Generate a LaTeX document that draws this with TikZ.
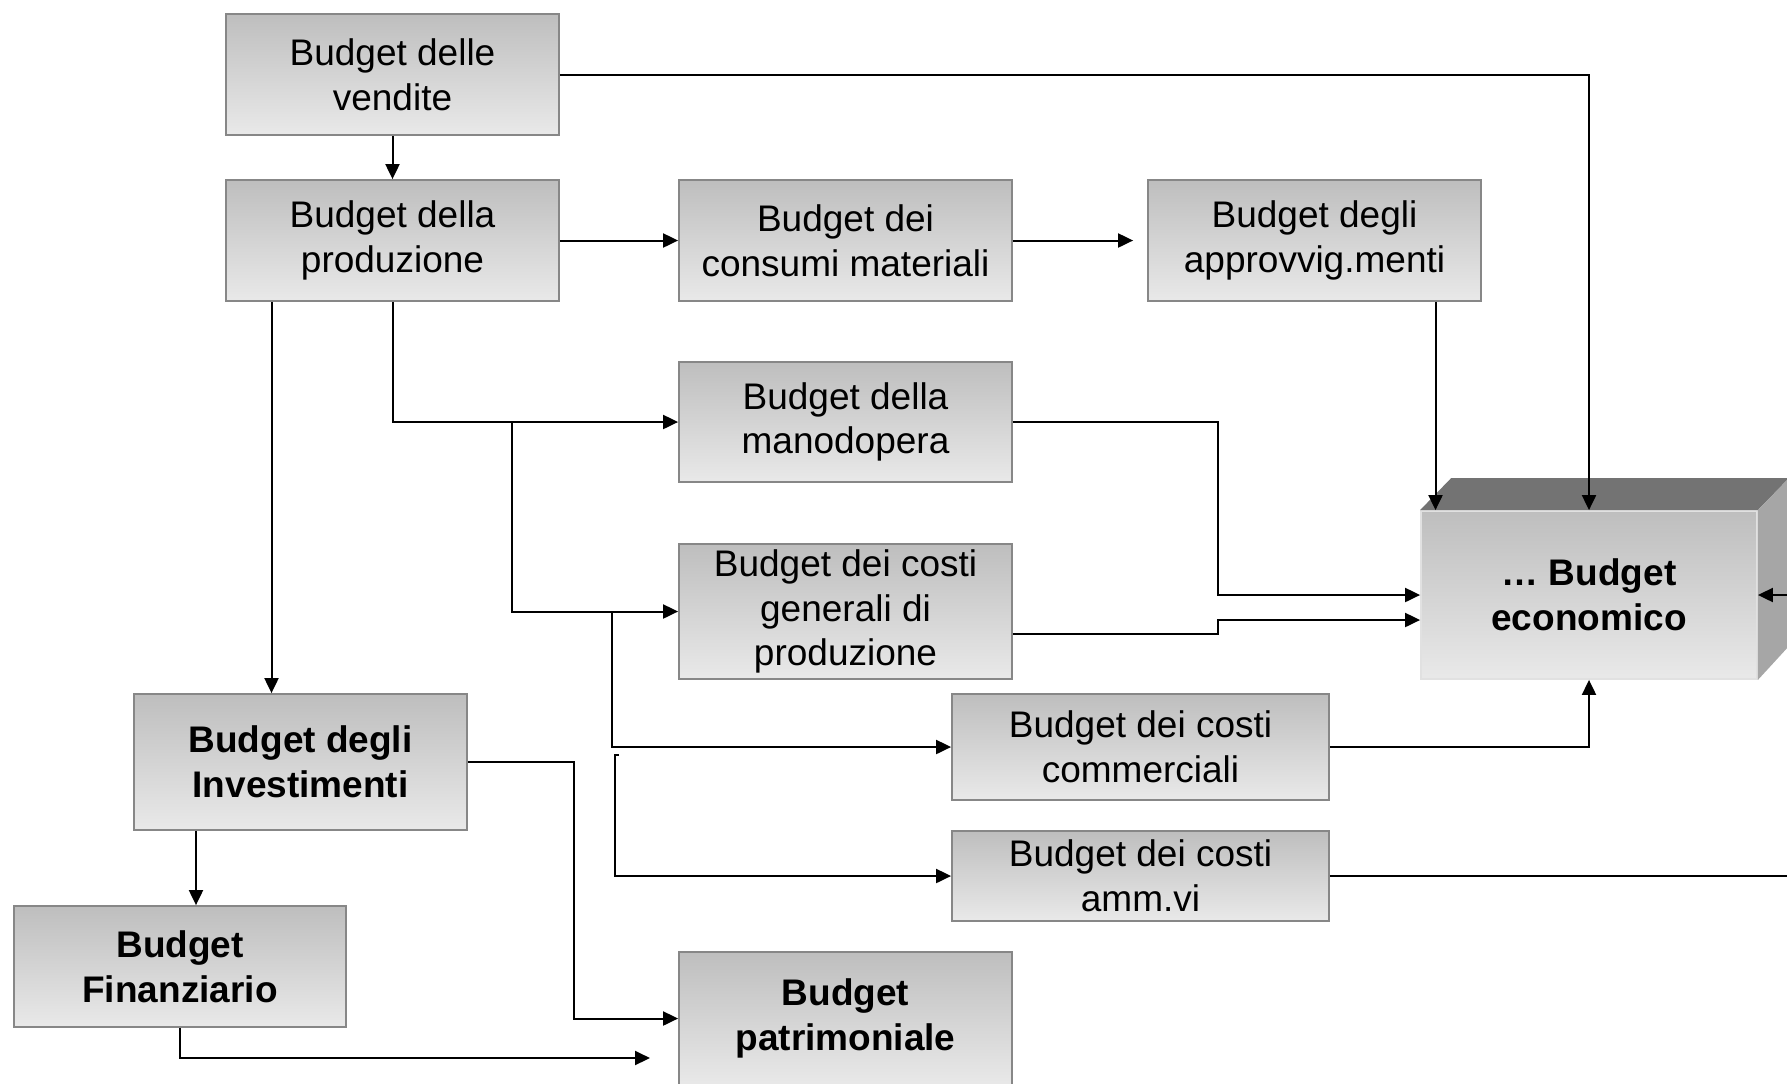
\documentclass[tikz,border=0pt]{standalone}
\usepackage{fontspec}
\setmainfont{Liberation Sans}
\usetikzlibrary{calc,arrows.meta}
\definecolor{boxtop}{RGB}{190,190,190}
\definecolor{boxbot}{RGB}{233,233,233}
\definecolor{boxedge}{RGB}{135,135,135}
\definecolor{lidgray}{RGB}{115,115,115}
\definecolor{sidegray}{RGB}{166,166,166}
\definecolor{faceedge}{RGB}{225,225,225}

\begin{document}
\begin{tikzpicture}[x=0.5pt,y=-0.5pt,
  box/.style={draw=boxedge, line width=0.9pt, top color=boxtop, bottom color=boxbot,
    align=center, inner sep=0pt, font=\fontsize{18.5}{22.3}\selectfont,
    minimum width=166.5pt, minimum height=60.5pt},
  boldbox/.style={box, font=\fontsize{18.5}{22.3}\selectfont\bfseries},
  arr/.style={draw=black, line width=1pt, -{Triangle[length=7.5pt,width=7pt]}}]

\useasboundingbox (0,0) rectangle (1787,1083);

% planning boxes
\node[box] (vend) at (392.5,74.5) {Budget delle\\vendite};
\node[box] (prod) at (392.5,240.5) {Budget della\\produzione};
\node[box] (cons) at (845.5,240.5) {Budget dei\\consumi materiali};
\node[box] (appr) at (1314.5,240.5) {Budget degli\\approvvig.menti};
\node[box, minimum height=60pt] (mano) at (845.5,422) {Budget della\\manodopera};
\node[box, minimum height=67.5pt] (cgen) at (845.5,611.5) {Budget dei costi\\generali di\\produzione};
\node[box, minimum width=188.5pt, minimum height=53pt] (comm) at (1140.5,747) {Budget dei costi\\commerciali};
\node[box, minimum width=188.5pt, minimum height=45pt] (amm) at (1140.5,876) {Budget dei costi\\amm.vi};
\node[boldbox, minimum height=68pt] (inv) at (300.5,762) {Budget degli\\Investimenti};
\node[boldbox, minimum width=166pt] (fin) at (180,966.5) {Budget\\Finanziario};
\node[boldbox, minimum height=66.5pt] (patr) at (845.5,1018.5) {Budget\\patrimoniale};

% 3D block for the income budget
\node[boldbox, draw=faceedge, minimum width=168pt, minimum height=84pt] (eco) at (1589,595) {… Budget\\economico};
\fill[lidgray] (eco.north west) -- ++(31,-32) -- ($(eco.north east)+(31,-32)$) -- (eco.north east) -- cycle;
\fill[sidegray] (eco.north east) -- ++(31,-32) -- ++(0,168) -- (eco.south east) -- cycle;

% helper points
\coordinate (p1) at ($(prod.south)+(-121,0)$);
\coordinate (a1) at ($(appr.south)+(121,0)$);
\coordinate (j1) at ($(mano.west)+(-166,0)$);
\coordinate (j2) at ($(cgen.west)+(-66,0)$);
\coordinate (k1) at (619,755);
\coordinate (k2) at (614.5,755);
\coordinate (c1) at ($(cgen.east)+(0,22.5)$);
\coordinate (i1) at ($(inv.south)+(-104.5,0)$);
\coordinate (f1) at (650,1058);

% connectors
\draw[arr] (vend) -- (prod);
\draw[arr] (vend.east) -| (eco.north);
\draw[arr] (prod) -- (cons);
\draw[arr, shorten >=7pt] (cons) -- (appr);
\draw[arr] (a1) -- (a1 |- eco.north);
\draw[arr] (p1) -- (p1 |- inv.north);
\draw[arr] (prod.south) |- (mano.west);
\draw[arr] (j1) |- (cgen.west);
\draw[arr] (j2) |- (comm.west);
\draw[arr] (k1) -- (k2) |- (amm.west);
\draw[arr] (mano.east) -- ++(205,0) |- (eco.west);
\draw[arr] (c1) -- ++(205,0) |- ($(eco.west)+(0,25)$);
\draw[arr] (comm.east) -| (eco.south);
\draw[arr] (amm.east) -- ++(480,0) |- (eco.east);
\draw[arr] (i1) -- (i1 |- fin.north);
\draw[arr] (inv.east) -- ++(106,0) |- (patr.west);
\draw[arr] (fin.south) |- (f1);

\end{tikzpicture}
\end{document}
